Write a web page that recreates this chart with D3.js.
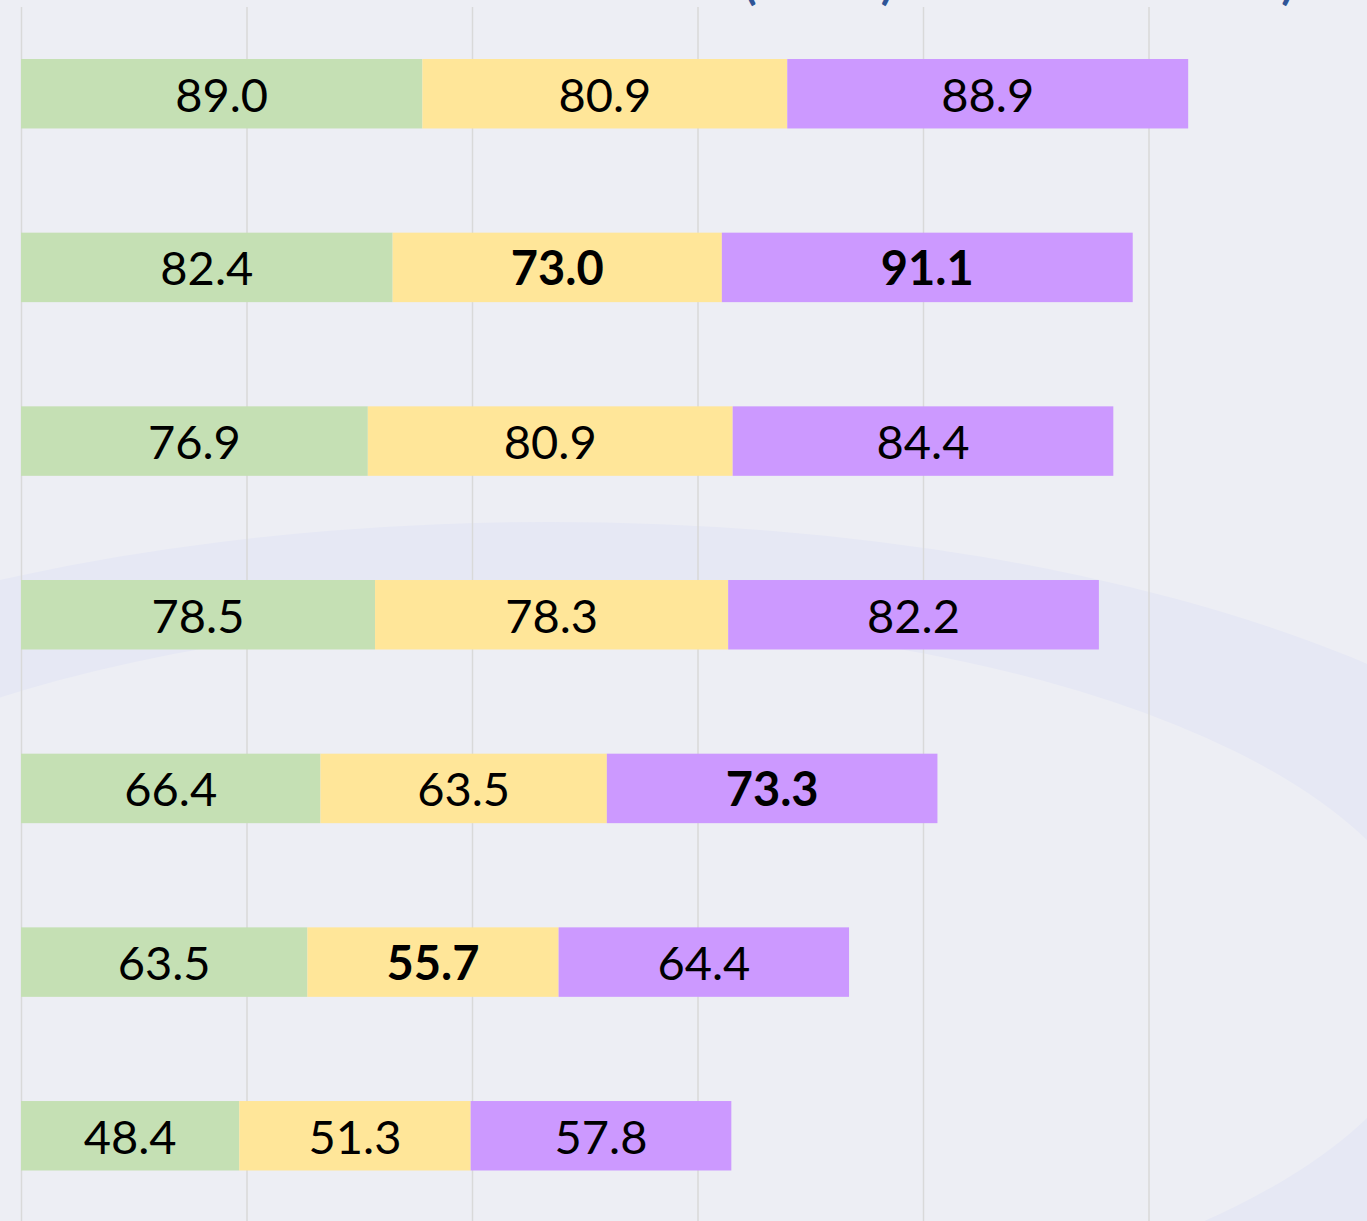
<!DOCTYPE html>
<html>
<head>
<meta charset="utf-8">
<script src="https://cdn.jsdelivr.net/npm/d3@7"></script>
<style>
  html, body { margin: 0; padding: 0; background: #EDEEF4; overflow: hidden; }
  svg { display: block; }
</style>
</head>
<body>
<svg id="chart" width="1367" height="1221"></svg>
<script>
// ---------------- data ----------------
const categories = ["Row 1", "Row 2", "Row 3", "Row 4", "Row 5", "Row 6", "Row 7"];
const seriesNames = ["Series A", "Series B", "Series C"];
const seriesA = [89.0, 82.4, 76.9, 78.5, 66.4, 63.5, 48.4];
const seriesB = [80.9, 73.0, 80.9, 78.3, 63.5, 55.7, 51.3];
const seriesC = [88.9, 91.1, 84.4, 82.2, 73.3, 64.4, 57.8];
// which labels are bold (best results) [row, series]
const boldLabels = [[1, 1], [1, 2], [4, 2], [5, 1]];
const xTicks = [0, 50, 100, 150, 200, 250, 300];
const titleParts = ["(Acc %)", "Score)"];

// ---------------- layout ----------------
const W = 1367, H = 1221;
const colors = ["#C5E0B4", "#FFE699", "#CC99FF"];
const svg = d3.select("#chart");

// background decoration (elliptical band)
svg.append("rect").attr("x", 0).attr("y", 0).attr("width", W).attr("height", H).attr("fill", "#EDEEF4");
svg.append("ellipse").attr("cx", 550).attr("cy", 979).attr("rx", 1128).attr("ry", 457).attr("fill", "#E6E8F4");
svg.append("ellipse").attr("cx", 550).attr("cy", 979).attr("rx", 886).attr("ry", 359).attr("fill", "#EDEEF4");

const x = d3.scaleLinear().domain([0, 300]).range([21, 21 + 300 * 4.51]);
const y = d3.scaleBand().domain(categories).range([6.9, 1222.6]).paddingInner(0.6).paddingOuter(0.3);

// title fragment (cut off at top, as in the reference)
svg.append("text").attr("x", 744).attr("y", -1).attr("font-family", "Lato, sans-serif")
  .attr("font-weight", "bold").attr("font-size", 46).attr("fill", "#2F5597").text(titleParts[0]);
svg.append("text").attr("x", 1294).attr("y", -1).attr("text-anchor", "end").attr("font-family", "Lato, sans-serif")
  .attr("font-weight", "bold").attr("font-size", 46).attr("fill", "#2F5597").text(titleParts[1]);

// gridlines via axis
const grid = svg.append("g").attr("transform", `translate(0,${H})`)
  .call(d3.axisTop(x).tickValues(xTicks).tickSize(H - 7).tickFormat(""));
grid.select(".domain").remove();
grid.selectAll(".tick line").attr("stroke", "#D9D9D9").attr("stroke-width", 1.5);

// stacked data
const rows = categories.map((c, i) => ({ cat: c, A: seriesA[i], B: seriesB[i], C: seriesC[i] }));
const stack = d3.stack().keys(["A", "B", "C"])(rows);

const isBold = (r, s) => boldLabels.some(b => b[0] === r && b[1] === s);

stack.forEach((layer, si) => {
  const g = svg.append("g");
  g.selectAll("rect").data(layer).join("rect")
    .attr("x", d => x(d[0]))
    .attr("y", d => y(d.data.cat))
    .attr("width", d => x(d[1]) - x(d[0]))
    .attr("height", y.bandwidth())
    .attr("fill", colors[si]);
  g.selectAll("text").data(layer).join("text")
    .attr("x", d => (x(d[0]) + x(d[1])) / 2)
    .attr("y", d => y(d.data.cat) + y.bandwidth() / 2 + 18)
    .attr("text-anchor", "middle")
    .attr("font-family", "Lato, 'Open Sans', sans-serif")
    .attr("font-size", 47)
    .attr("font-weight", (d, i) => isBold(i, si) ? "bold" : "normal")
    .attr("fill", "#000")
    .text(d => (d[1] - d[0]).toFixed(1));
});
</script>
</body>
</html>
